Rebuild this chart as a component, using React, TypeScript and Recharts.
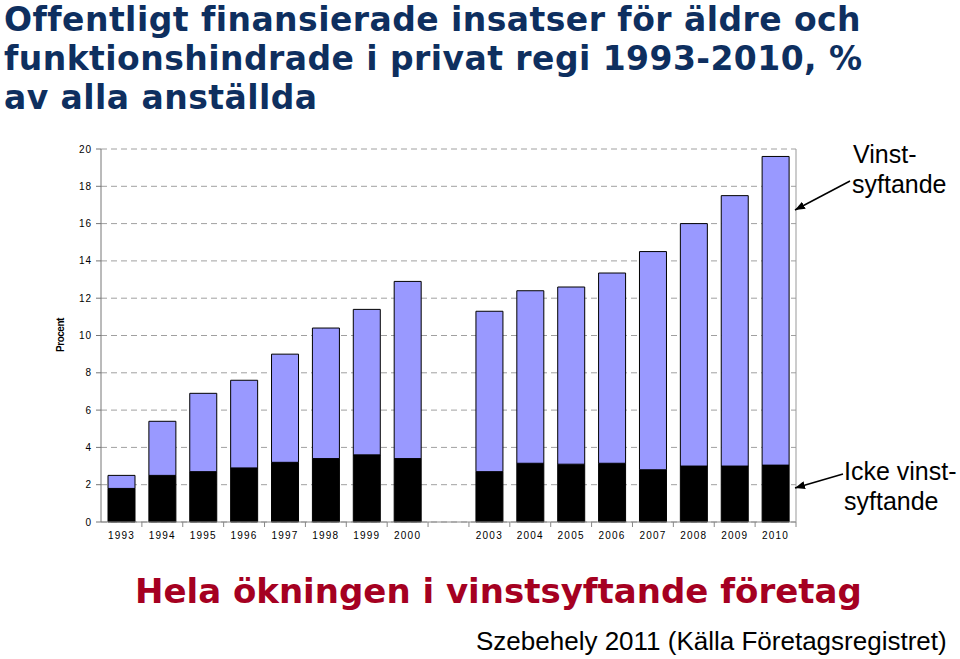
import React from 'react';
import { BarChart, Bar, XAxis, YAxis, CartesianGrid } from 'recharts';

const years = ['1993', '1994', '1995', '1996', '1997', '1998', '1999', '2000', ' ', '2003', '2004', '2005', '2006', '2007', '2008', '2009', '2010'];
const ickeVinst = [1.8, 2.5, 2.7, 2.9, 3.2, 3.4, 3.6, 3.4, null, 2.7, 3.15, 3.1, 3.15, 2.8, 3.0, 3.0, 3.05];
const vinst = [0.7, 2.9, 4.2, 4.7, 5.8, 7.0, 7.8, 9.5, null, 8.6, 9.25, 9.5, 10.2, 11.7, 13.0, 14.5, 16.55];
const yTicks = [0, 2, 4, 6, 8, 10, 12, 14, 16, 18, 20];

const titleLines = ['Offentligt finansierade insatser för äldre och', 'funktionshindrade i privat regi 1993-2010, %', 'av alla anställda'];
const headline = 'Hela ökningen i vinstsyftande företag';
const credit = 'Szebehely 2011 (Källa Företagsregistret)';
const vinstLabel = ['Vinst-', 'syftande'];
const ickeLabel = ['Icke vinst-', 'syftande'];

const data = years.map((y, i) => ({ year: y, icke: ickeVinst[i], vinst: vinst[i] }));

const FONT = '"Liberation Sans", Arial, sans-serif';

const XTick = (props: any) => {
  const { x, y, payload } = props;
  const half = payload && typeof payload.offset === 'number' && payload.offset > 0 ? payload.offset : 20.44;
  return (
    <g>
      <line x1={x + half} x2={x + half} y1={y - 8} y2={y - 3} stroke="#888" strokeWidth={1} />
      <text x={x} y={y + 9} textAnchor="middle" fontFamily={FONT} fontSize={10} letterSpacing={1.2} fill="#000">
        {payload.value}
      </text>
    </g>
  );
};

const YTick = (props: any) => {
  const { x, y, payload } = props;
  return (
    <text x={x - 2} y={y + 3.5} textAnchor="end" fontFamily={FONT} fontSize={10} letterSpacing={1} fill="#000">
      {payload.value}
    </text>
  );
};

export default function App() {
  return (
    <div style={{ position: 'absolute', left: 0, top: 0, width: 960, height: 659, background: '#fff', overflow: 'hidden' }}>
      <BarChart
        width={960}
        height={659}
        data={data}
        margin={{ top: 149, right: 163, bottom: 107, left: 61 }}
      >
        <CartesianGrid vertical={false} stroke="#a0a0a0" strokeDasharray="6 4" />
        <XAxis
          dataKey="year"
          height={30}
          axisLine={{ stroke: '#888' }}
          tickLine={false}
          tick={<XTick />}
          interval={0}
        />
        <XAxis xAxisId="top" dataKey="year" orientation="top" height={0} tick={false} tickLine={false} axisLine={{ stroke: '#999' }} />
        <YAxis
          domain={[0, 20]}
          ticks={yTicks}
          width={40}
          axisLine={{ stroke: '#777' }}
          tickLine={{ stroke: '#777' }}
          tickSize={5}
          tick={<YTick />}
          interval={0}
        />
        <YAxis yAxisId="right" orientation="right" domain={[0, 20]} width={1} tick={false} tickLine={false} axisLine={{ stroke: '#999' }} />
        <Bar dataKey="icke" stackId="a" fill="#000000" stroke="#000" strokeWidth={1} barSize={27} isAnimationActive={false} />
        <Bar dataKey="vinst" stackId="a" fill="#9999ff" stroke="#000" strokeWidth={1} barSize={27} isAnimationActive={false} />
      </BarChart>
      <svg width={960} height={659} style={{ position: 'absolute', left: 0, top: 0, pointerEvents: 'none' }}>
        <defs>
          <marker id="ah" markerWidth="10" markerHeight="8" refX="10" refY="4" orient="auto" markerUnits="userSpaceOnUse">
            <path d="M0,0 L10,4 L0,8 Z" fill="#000" />
          </marker>
        </defs>
        {titleLines.map((t, i) => (
          <text key={i} x={4} y={[30.5, 70, 109][i]} fontFamily='"DejaVu Sans", Verdana, sans-serif' fontWeight="bold" fontSize={33} letterSpacing={0.45} fill="#0e2f5f">
            {t}
          </text>
        ))}
        <text x={64} y={335} transform="rotate(-90 64 335)" textAnchor="middle" fontFamily={FONT} fontSize={10} fontWeight="bold" letterSpacing={-0.5} fill="#000">
          Procent
        </text>
        <text x={853} y={163} fontFamily={FONT} fontSize={25} fill="#000">{vinstLabel[0]}</text>
        <text x={852} y={193} fontFamily={FONT} fontSize={25} fill="#000">{vinstLabel[1]}</text>
        <text x={844} y={480} fontFamily={FONT} fontSize={25} fill="#000">{ickeLabel[0]}</text>
        <text x={844} y={510} fontFamily={FONT} fontSize={25} fill="#000">{ickeLabel[1]}</text>
        <line x1={850} y1={181} x2={795} y2={210} stroke="#000" strokeWidth={1.5} markerEnd="url(#ah)" />
        <line x1={843} y1={474} x2={795} y2={488} stroke="#000" strokeWidth={1.5} markerEnd="url(#ah)" />
        <text x={135} y={603} fontFamily='"DejaVu Sans", Verdana, sans-serif' fontWeight="bold" fontSize={34} fill="#a50021">
          {headline}
        </text>
        <text x={476} y={650} fontFamily={FONT} fontSize={26} fill="#000">
          {credit}
        </text>
      </svg>
    </div>
  );
}
